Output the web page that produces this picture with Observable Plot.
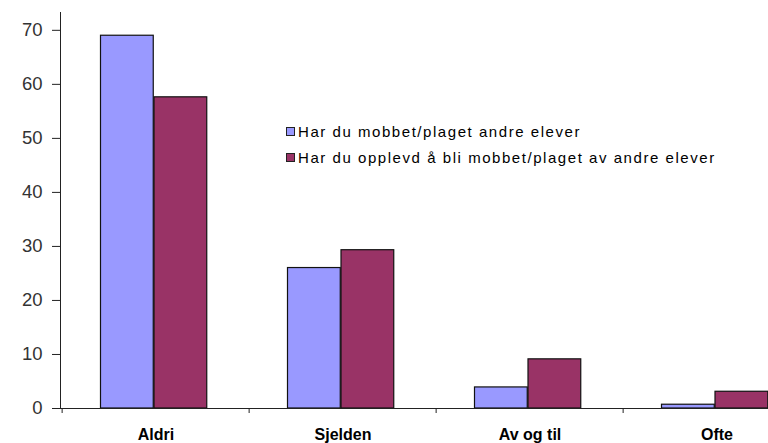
<!DOCTYPE html>
<html><head><meta charset="utf-8">
<script src="https://cdn.jsdelivr.net/npm/d3@7"></script>
<script src="https://cdn.jsdelivr.net/npm/@observablehq/plot@0.6"></script>
<style>
html,body{margin:0;padding:0;background:#fff;overflow:hidden;}
#wrap{position:relative;width:768px;height:443px;overflow:hidden;}
.legend{position:absolute;left:286px;top:0;font-family:"Liberation Sans",Arial,sans-serif;font-size:15px;letter-spacing:1.55px;color:#000;}
.legend .row{position:absolute;left:0;white-space:nowrap;display:flex;align-items:center;height:18px;}
.legend .sw{display:inline-block;width:7px;height:7px;border:1px solid #222;margin-right:3px;}
</style></head><body><div id="wrap"></div>
<script>
const categories = ["Aldri", "Sjelden", "Av og til", "Ofte"];
const seriesNames = ["Har du mobbet/plaget andre elever", "Har du opplevd å bli mobbet/plaget av andre elever"];
const series1 = [69, 26, 3.9, 0.7];
const series2 = [57.6, 29.3, 9.1, 3.1];
const yTicks = [0, 10, 20, 30, 40, 50, 60, 70];
const colors = ["#9999FF", "#993366"];

const rows1 = categories.map((c, i) => ({category: c, series: seriesNames[0], value: series1[i]}));
const rows2 = categories.map((c, i) => ({category: c, series: seriesNames[1], value: series2[i]}));

const chart = Plot.plot({
  width: 768, height: 443,
  marginTop: 12, marginBottom: 35, marginLeft: 60, marginRight: 0,
  x: {domain: categories, range: [60, 811], padding: 0, label: null},
  y: {domain: [0, 73.3], label: null},
  color: {domain: seriesNames, range: colors},
  style: {fontFamily: "Liberation Sans, Arial, sans-serif", background: "#fff", overflow: "hidden"},
  marks: [
    Plot.barY(rows1, {x: "category", y: "value", fill: "series", stroke: "#111", strokeWidth: 1.2, insetLeft: 38.5, insetRight: 95.75}),
    Plot.barY(rows2, {x: "category", y: "value", fill: "series", stroke: "#111", strokeWidth: 1.2, insetLeft: 92, insetRight: 42.25}),
    Plot.ruleY([0], {stroke: "#222"}),
    Plot.frame({anchor: "left", stroke: "#222"}),
    Plot.axisY({ticks: yTicks, tickSize: 8, tickPadding: 10, fontSize: 18.5, stroke: "#222", fill: "#333", label: null}),
    Plot.axisX({tickSize: 0, tickPadding: 20, fontSize: 16, fontWeight: "bold", fill: "#000", label: null, style: "letter-spacing:1.3px"}),
    Plot.ruleX(categories, {x: d => d, dx: -93.875, y1: 0, y2: 0, insetBottom: -5, stroke: "#222"})
  ]
});
const wrap = document.getElementById("wrap");
wrap.appendChild(chart);

const legend = document.createElement("div");
legend.className = "legend";
const tops = [122, 148];
seriesNames.forEach((name, i) => {
  const row = document.createElement("div");
  row.className = "row";
  row.style.top = tops[i] + "px";
  const sw = document.createElement("span");
  sw.className = "sw";
  sw.style.background = colors[i];
  row.appendChild(sw);
  row.appendChild(document.createTextNode(name));
  legend.appendChild(row);
});
wrap.appendChild(legend);
</script>
</body></html>
